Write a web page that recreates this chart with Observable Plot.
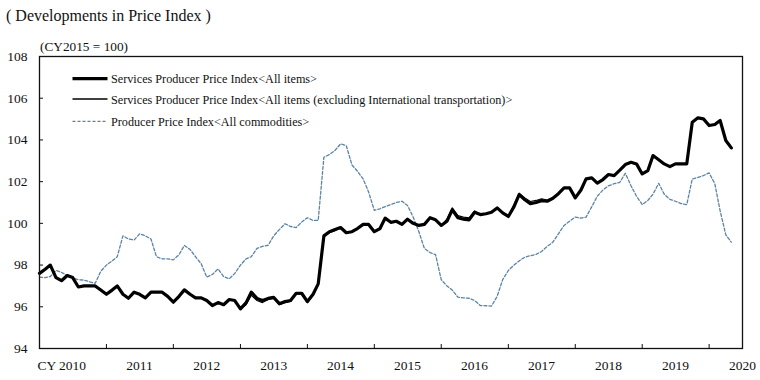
<!DOCTYPE html>
<html>
<head>
<meta charset="utf-8">
<script src="https://cdn.jsdelivr.net/npm/d3@7"></script>
<script src="https://cdn.jsdelivr.net/npm/@observablehq/plot@0.6"></script>
<style>
  body { margin: 0; background: #fff; font-family: "Liberation Serif", "Times New Roman", serif; }
  #title { height: 32px; line-height: 32px; padding-left: 6px; font-size: 16px; color: #111; }
</style>
</head>
<body>
<div id="title">( Developments in Price Index )</div>
<div id="chart"></div>
<script>
// Monthly observations, Jan 2010 – May 2020 (CY2015 = 100)
const startMonth = "2010-01";
const sppiAll = [
  97.6, 97.8, 98.0, 97.4, 97.25, 97.5, 97.4, 96.95, 97.0, 97.0,
  97.0, 96.8, 96.6, 96.8, 97.0, 96.6, 96.41, 96.7, 96.6, 96.43,
  96.7, 96.7, 96.7, 96.5, 96.22, 96.5, 96.81, 96.6, 96.43, 96.43,
  96.3, 96.06, 96.2, 96.1, 96.35, 96.3, 95.9, 96.2, 96.7, 96.4,
  96.3, 96.4, 96.45, 96.15, 96.25, 96.3, 96.65, 96.65, 96.25, 96.6,
  97.1, 99.4, 99.6, 99.7, 99.8, 99.55, 99.6, 99.75, 99.95, 99.95,
  99.6, 99.75, 100.25, 100.05, 100.1, 99.95, 100.2, 100.0, 99.9, 99.95,
  100.27, 100.17, 99.9, 100.1, 100.65, 100.27, 100.2, 100.17, 100.53, 100.42,
  100.46, 100.53, 100.74, 100.5, 100.33, 100.8, 101.38, 101.13, 100.94, 101.0,
  101.09, 101.06, 101.2, 101.42, 101.7, 101.7, 101.22, 101.6, 102.13, 102.18,
  101.93, 102.1, 102.34, 102.29, 102.55, 102.82, 102.93, 102.85, 102.37, 102.53,
  103.25, 103.05, 102.85, 102.72, 102.85, 102.85, 102.85, 104.85, 105.06, 105.01,
  104.69, 104.74, 104.93, 103.97, 103.62
];
const sppiExIntl = [
  97.6, 97.8, 98.0, 97.4, 97.25, 97.5, 97.4, 96.95, 97.0, 97.0,
  97.0, 96.8, 96.6, 96.8, 97.0, 96.6, 96.41, 96.7, 96.6, 96.43,
  96.7, 96.7, 96.7, 96.5, 96.22, 96.5, 96.81, 96.6, 96.43, 96.43,
  96.3, 96.06, 96.2, 96.1, 96.35, 96.3, 95.9, 96.1, 96.55, 96.3,
  96.2, 96.35, 96.4, 96.1, 96.2, 96.25, 96.6, 96.6, 96.2, 96.55,
  97.05, 99.35, 99.55, 99.65, 99.8, 99.55, 99.6, 99.75, 99.95, 99.95,
  99.6, 99.75, 100.25, 100.05, 100.1, 99.95, 100.2, 100.0, 99.9, 99.95,
  100.27, 100.17, 99.9, 100.2, 100.75, 100.37, 100.3, 100.27, 100.6, 100.42,
  100.46, 100.53, 100.74, 100.5, 100.33, 100.9, 101.45, 101.22, 101.05, 101.1,
  101.18, 101.12, 101.25, 101.42, 101.7, 101.7, 101.22, 101.6, 102.13, 102.18,
  101.93, 102.1, 102.34, 102.29, 102.55, 102.82, 102.93, 102.85, 102.37, 102.53,
  103.25, 103.05, 102.85, 102.72, 102.85, 102.85, 102.85, 104.85, 105.06, 105.01,
  104.69, 104.74, 104.93, 103.97, 103.62
];
const ppiAll = [
  97.42, 97.4, 97.45, 97.74, 97.65, 97.5, 97.38, 97.3, 97.28, 97.2,
  97.13, 97.7, 98.0, 98.2, 98.4, 99.4, 99.25, 99.2, 99.5, 99.4,
  99.25, 98.4, 98.3, 98.3, 98.25, 98.5, 98.94, 98.75, 98.4, 98.06,
  97.42, 97.55, 97.82, 97.45, 97.34, 97.6, 98.0, 98.3, 98.4, 98.8,
  98.9, 98.95, 99.4, 99.7, 99.98, 99.85, 99.8, 100.06, 100.27, 100.14,
  100.14, 103.17, 103.3, 103.5, 103.81, 103.73, 102.8, 102.5, 102.13, 101.5,
  100.62, 100.7, 100.8, 100.9, 101.0, 101.06, 100.86, 100.3, 99.6, 98.8,
  98.6, 98.5, 97.3, 97.0, 96.8, 96.46, 96.43, 96.41, 96.3, 96.06,
  96.05, 96.03, 96.5, 97.3, 97.74, 98.0, 98.2, 98.38, 98.45, 98.51,
  98.65, 98.9, 99.1, 99.5, 99.9, 100.1, 100.3, 100.25, 100.3, 100.8,
  101.3, 101.6, 101.8, 101.9, 101.97, 102.4, 101.8, 101.3, 100.9, 101.1,
  101.4, 101.92, 101.4, 101.15, 101.06, 100.95, 100.9, 102.13, 102.2, 102.29,
  102.42, 101.9, 100.6, 99.45, 99.1
];
const yTicks = [94, 96, 98, 100, 102, 104, 106, 108];
const yearLabels = ["2011", "2012", "2013", "2014", "2015", "2016", "2017", "2018", "2019", "2020"];
const firstYearLabel = "CY 2010";
const unitLabel = "(CY2015 = 100)";
const seriesNames = [
  "Services Producer Price Index<All items>",
  "Services Producer Price Index<All items (excluding International transportation)>",
  "Producer Price Index<All commodities>"
];

const t0 = new Date(startMonth + "-01T00:00:00Z");
const dates = sppiAll.map((_, i) => d3.utcMonth.offset(t0, i));
const rows = dates.map((d, i) => ({date: d, all: sppiAll[i], ex: sppiExIntl[i], ppi: ppiAll[i]}));
const yearStarts = yearLabels.map(y => new Date(y + "-01-01T00:00:00Z"));
const midYears = yearLabels.map(y => new Date(y + "-07-01T00:00:00Z"));
const firstMid = [new Date("2010-07-01T00:00:00Z")];

const dashColor = "#5a84a6";
const font = "'Liberation Serif', 'Times New Roman', serif";

const chart = Plot.plot({
  width: 760,
  height: 348,
  marginTop: 24,
  marginBottom: 32,
  marginLeft: 39,
  marginRight: 18,
  style: {fontFamily: font, fontSize: "13.5px", color: "#111", background: "#fff"},
  x: {type: "utc", domain: [new Date("2010-01-01T00:00:00Z"), new Date("2020-07-01T00:00:00Z")]},
  y: {domain: [94, 108]},
  marks: [
    Plot.axisY({ticks: yTicks, tickSize: -4, tickPadding: 16, tickFormat: d => String(d), label: null, fontSize: 13.5}),
    Plot.axisX({ticks: yearStarts, tickSize: -4, tickFormat: () => "", label: null}),
    Plot.text(midYears, {x: d => d, frameAnchor: "bottom", dy: 21, text: (d, i) => yearLabels[i], fontSize: 13.5, fill: "#111"}),
    Plot.text(firstMid, {x: d => d, frameAnchor: "bottom", dy: 21, dx: -11, text: () => firstYearLabel, fontSize: 13.5, fill: "#111"}),
    Plot.line(rows, {x: "date", y: "ppi", stroke: dashColor, strokeWidth: 1.3, strokeDasharray: "3,2"}),
    Plot.line(rows, {x: "date", y: "all", stroke: "#000", strokeWidth: 3.2, strokeLinejoin: "round"}),
    Plot.line(rows, {x: "date", y: "ex", stroke: "#000", strokeWidth: 1.1}),
    Plot.frame({stroke: "#111", strokeWidth: 1.3})
  ]
});

const svg = d3.select(chart);
svg.append("text").attr("x", 40).attr("y", 19).attr("text-anchor", "start")
  .style("font-size", "13.3px").attr("fill", "#111").text(unitLabel);
const leg = svg.append("g").attr("text-anchor", "start");
const legY = [46.7, 67, 89.3];
const legStyles = [
  {stroke: "#000", w: 3.2, dash: null},
  {stroke: "#000", w: 1.3, dash: null},
  {stroke: dashColor, w: 1.3, dash: "3,2"}
];
seriesNames.forEach((name, i) => {
  const s = legStyles[i];
  const l = leg.append("line").attr("x1", 72.5).attr("x2", 107.5).attr("y1", legY[i]).attr("y2", legY[i])
    .attr("stroke", s.stroke).attr("stroke-width", s.w);
  if (s.dash) l.attr("stroke-dasharray", s.dash);
  leg.append("text").attr("x", 111).attr("y", legY[i] + 4.5).attr("text-anchor", "start")
    .style("font-size", "12.2px").attr("fill", "#111").text(name);
});

document.getElementById("chart").appendChild(chart);
</script>
</body>
</html>
